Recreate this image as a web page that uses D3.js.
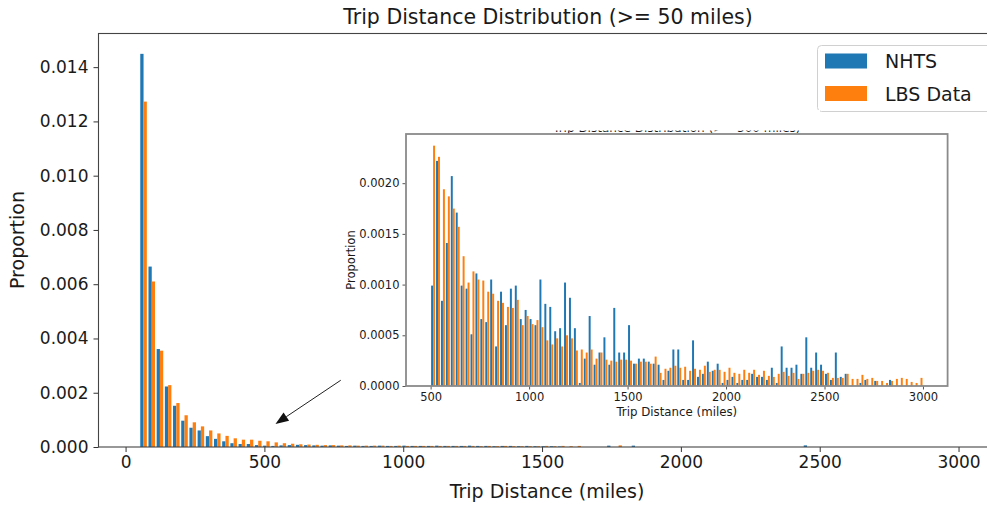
<!DOCTYPE html>
<html>
<head>
<meta charset="utf-8">
<script src="https://cdn.jsdelivr.net/npm/d3@7/dist/d3.min.js"></script>
<style>
  html, body { margin: 0; padding: 0; background: #fff; }
  svg text { font-family: "DejaVu Sans", sans-serif; fill: #1a1a1a; }
</style>
</head>
<body>
<svg id="chart" width="987" height="505"></svg>
<script>
// ---------------- DATA ----------------
const seriesNames = ["NHTS", "LBS Data"];
const seriesColors = ["#1f77b4", "#ff7f0e"];

// Main histogram: 100 bins from 50 to 3000 miles
const mainBinStart = 50, mainBinEnd = 3000, mainBinCount = 100;
const nhtsMain = [
  0.01449, 0.00665, 0.00361, 0.00223, 0.00152, 0.00097, 0.00071, 0.00061, 0.00040, 0.00030,
  0.00021, 0.00014, 0.00011, 0.00011, 0.00007, 0.00005, 0.00004, 0.00006, 0.00007, 0.00008,
  0.00007, 0.00006, 0.00005, 0.00006, 0.00005, 0.00004, 0.00005, 0.00004, 0.00004, 0.00005,
  0.00004, 0.00004, 0.00005, 0.00004, 0.00004, 0.00004, 0.00005, 0.00004, 0.00004, 0.00004,
  0.00005, 0.00004, 0.00004, 0.00003, 0.00004, 0.00004, 0.00003, 0.00004, 0.00003, 0.00003,
  0.00003, 0.00002, 0, 0, 0, 0, 0, 0.00005, 0, 0,
  0.00005, 0, 0, 0, 0, 0, 0, 0, 0, 0,
  0, 0, 0, 0, 0, 0, 0, 0, 0, 0,
  0, 0.00006, 0, 0, 0, 0, 0, 0, 0, 0,
  0, 0, 0, 0, 0, 0, 0, 0, 0, 0
];
const lbsMain = [
  0.01273, 0.00610, 0.00355, 0.00228, 0.00162, 0.00117, 0.00091, 0.00076, 0.00061, 0.00050,
  0.00041, 0.00032, 0.00027, 0.00027, 0.00023, 0.00021, 0.00017, 0.00014, 0.00012, 0.00010,
  0.00009, 0.00008, 0.00007, 0.00007, 0.00006, 0.00006, 0.00005, 0.00005, 0.00005, 0.00005,
  0.00004, 0.00005, 0.00004, 0.00004, 0.00004, 0.00004, 0.00004, 0.00004, 0.00004, 0.00004,
  0.00004, 0.00003, 0.00004, 0.00003, 0.00004, 0.00003, 0.00003, 0.00003, 0.00003, 0.00004,
  0.00003, 0.00004, 0.00003, 0.00004, 0, 0, 0, 0, 0.00006, 0,
  0, 0, 0, 0, 0, 0, 0, 0, 0, 0,
  0, 0, 0, 0, 0, 0, 0, 0, 0, 0,
  0, 0, 0, 0, 0, 0, 0, 0, 0, 0,
  0, 0, 0, 0, 0, 0, 0, 0, 0, 0
];

// Inset histogram: 100 bins from 500 to 3000 miles
const insetBinStart = 500, insetBinEnd = 3000, insetBinCount = 100;
const nhtsInset = [
  0.00099, 0.00222, 0.00084, 0.00141, 0.00207, 0.00171, 0.00099, 0.00096, 0.00051, 0.00111,
  0.00066, 0.00063, 0.00105, 0.00039, 0.00093, 0.00060, 0.00096, 0.00099, 0.00066, 0.00075,
  0.00066, 0.00060, 0.00105, 0.00081, 0.00078, 0.00054, 0.00057, 0.00102, 0.00087, 0.00057,
  0.00003, 0.00027, 0.00069, 0.00021, 0.00033, 0.00048, 0.00021, 0.00077, 0.00033, 0.00033,
  0.00060, 0.00022, 0.00027, 0.00027, 0.00024, 0.00022, 0.00021, 0.00006, 0.00015, 0.00036,
  0.00036, 0.00006, 0.00006, 0.00045, 0.00009, 0.00012, 0.00024, 0.00015, 0.00022, 0.00003,
  0.00006, 0.00009, 0.00003, 0.00006, 0.00006, 0.00012, 0.00009, 0.00009, 0.00006, 0.00018,
  0.00003, 0.00039, 0.00018, 0.00018, 0.00021, 0.00012, 0.00048, 0.00018, 0.00033, 0.00021,
  0.00012, 0.00006, 0.00033, 0.00009, 0.00012, 0, 0, 0.00003, 0.00006, 0,
  0.00005, 0, 0, 0.00006, 0, 0, 0, 0, 0, 0
];
const lbsInset = [
  0.00237, 0.00226, 0.00194, 0.00187, 0.00175, 0.00157, 0.00128, 0.00102, 0.00113, 0.00105,
  0.00104, 0.00093, 0.00091, 0.00084, 0.00082, 0.00078, 0.00077, 0.00085, 0.00060, 0.00069,
  0.00061, 0.00065, 0.00058, 0.00045, 0.00041, 0.00047, 0.00039, 0.00050, 0.00047, 0.00035,
  0.00036, 0.00033, 0.00036, 0.00027, 0.00033, 0.00026, 0.00025, 0.00024, 0.00026, 0.00026,
  0.00025, 0.00022, 0.00024, 0.00024, 0.00022, 0.00029, 0.00013, 0.00017, 0.00018, 0.00020,
  0.00018, 0.00019, 0.00015, 0.00017, 0.00016, 0.00020, 0.00014, 0.00016, 0.00016, 0.00014,
  0.00018, 0.00013, 0.00012, 0.00016, 0.00013, 0.00016, 0.00011, 0.00015, 0.00010, 0.00009,
  0.00012, 0.00014, 0.00010, 0.00013, 0.00007, 0.00012, 0.00013, 0.00015, 0.00016, 0.00015,
  0.00013, 0.00008, 0.00008, 0.00008, 0.00012, 0.00007, 0.00007, 0.00011, 0.00007, 0.00008,
  0.00005, 0.00005, 0.00003, 0.00005, 0.00007, 0.00008, 0.00007, 0.00004, 0.00003, 0.00008
];

const mainXTicks = [0, 500, 1000, 1500, 2000, 2500, 3000];
const mainYTicks = [0, 0.002, 0.004, 0.006, 0.008, 0.010, 0.012, 0.014];
const insetXTicks = [500, 1000, 1500, 2000, 2500, 3000];
const insetYTicks = [0, 0.0005, 0.0010, 0.0015, 0.0020];

const mainTitle = "Trip Distance Distribution (>= 50 miles)";
const insetTitle = "Trip Distance Distribution (>= 500 miles)";
const xLabel = "Trip Distance (miles)";
const yLabel = "Proportion";
// annotation arrow (data coords of main axes): tail -> head
const arrowTail = [775, 0.00246];
const arrowHead = [540, 0.00085];

// ---------------- DRAW ----------------
const svg = d3.select("#chart");
svg.append("rect").attr("width", 987).attr("height", 505).attr("fill", "#fff");

function drawBars(g, x, y, start, end, count, seriesList) {
  const w = (end - start) / count;
  const nx = seriesList.length;
  const barW = 0.8 * w / nx;
  seriesList.forEach((vals, s) => {
    g.append("g").selectAll("rect")
      .data(vals.map((v, i) => ({ v, i })).filter(d => d.v > 0))
      .join("rect")
      .attr("x", d => x(start + d.i * w + w / 2 - 0.4 * w + s * barW))
      .attr("width", d => x(start + d.i * w + w / 2 - 0.4 * w + (s + 1) * barW) - x(start + d.i * w + w / 2 - 0.4 * w + s * barW))
      .attr("y", d => y(d.v))
      .attr("height", d => y(0) - y(d.v))
      .attr("fill", seriesColors[s]);
  });
}

// ----- main axes -----
const M = { left: 98.5, right: 999.5, top: 33.5, bottom: 447 };
const mPad = 0.05 * (mainBinEnd - mainBinStart);
const xMain = d3.scaleLinear().domain([mainBinStart - mPad, mainBinEnd + mPad]).range([M.left, M.right]);
const yMain = d3.scaleLinear().domain([0, 0.01524]).range([M.bottom, M.top]);

const gMain = svg.append("g");
drawBars(gMain, xMain, yMain, mainBinStart, mainBinEnd, mainBinCount, [nhtsMain, lbsMain]);

const xAxisMain = svg.append("g").attr("transform", `translate(0,${M.bottom})`)
  .call(d3.axisBottom(xMain).tickValues(mainXTicks).tickSize(5).tickPadding(4).tickFormat(d3.format("d")));
const yAxisMain = svg.append("g").attr("transform", `translate(${M.left},0)`)
  .call(d3.axisLeft(yMain).tickValues(mainYTicks).tickSize(5).tickPadding(5).tickFormat(d3.format(".3f")));
[xAxisMain, yAxisMain].forEach(a => {
  a.select(".domain").remove();
  a.selectAll(".tick line").attr("stroke", "#333").attr("stroke-width", 1);
  a.selectAll(".tick text").style("font-size", "17px").attr("fill", "#1a1a1a");
});
svg.append("rect").attr("x", M.left).attr("y", M.top)
  .attr("width", M.right - M.left).attr("height", M.bottom - M.top)
  .attr("fill", "none").attr("stroke", "#444").attr("stroke-width", 1.1);

svg.append("text").attr("x", 548).attr("y", 24).attr("text-anchor", "middle")
  .style("font-size", "20.5px").text(mainTitle);
svg.append("text").attr("x", 547).attr("y", 498).attr("text-anchor", "middle")
  .style("font-size", "19px").text(xLabel);
svg.append("text").attr("transform", "translate(24,240) rotate(-90)").attr("text-anchor", "middle")
  .style("font-size", "19px").text(yLabel);

// arrow annotation
const ax1 = xMain(arrowTail[0]), ay1 = yMain(arrowTail[1]);
const ax2 = xMain(arrowHead[0]), ay2 = yMain(arrowHead[1]);
const ang = Math.atan2(ay2 - ay1, ax2 - ax1);
const hl = 13, hw = 5;
const bx = ax2 - hl * Math.cos(ang), by = ay2 - hl * Math.sin(ang);
svg.append("line").attr("x1", ax1).attr("y1", ay1).attr("x2", bx).attr("y2", by)
  .attr("stroke", "#222").attr("stroke-width", 1);
svg.append("path")
  .attr("d", `M${ax2},${ay2} L${bx - hw * Math.sin(ang)},${by + hw * Math.cos(ang)} L${bx + hw * Math.sin(ang)},${by - hw * Math.cos(ang)} Z`)
  .attr("fill", "#111");

// ----- legend -----
const lg = svg.append("g");
lg.append("rect").attr("x", 817.5).attr("y", 45.5).attr("width", 190).attr("height", 66)
  .attr("rx", 4).attr("fill", "#fff").attr("fill-opacity", 0.8).attr("stroke", "#d0d0d0");
seriesNames.forEach((n, i) => {
  lg.append("rect").attr("x", 825).attr("y", 53.5 + i * 32.5).attr("width", 42).attr("height", 15)
    .attr("fill", seriesColors[i]);
  lg.append("text").attr("x", 885).attr("y", 68 + i * 32.5).style("font-size", "19px").text(n);
});

// ----- inset axes -----
const I = { left: 406, right: 947.6, top: 134, bottom: 386 };
const iPad = 0.05 * (insetBinEnd - insetBinStart);
const xIn = d3.scaleLinear().domain([insetBinStart - iPad, insetBinEnd + iPad]).range([I.left, I.right]);
const yIn = d3.scaleLinear().domain([0, 0.002485]).range([I.bottom, I.top]);

// inset title (almost entirely hidden in the original: only its bottom edge shows)
svg.append("text").attr("x", (I.left + I.right) / 2).attr("y", 132).attr("text-anchor", "middle")
  .style("font-size", "12px").attr("fill", "#777").text(insetTitle);
svg.append("rect").attr("x", 530).attr("y", 110).attr("width", 290).attr("height", 20.5).attr("fill", "#fff");

svg.append("rect").attr("x", I.left).attr("y", I.top)
  .attr("width", I.right - I.left).attr("height", I.bottom - I.top).attr("fill", "#fff");
const gIn = svg.append("g");
drawBars(gIn, xIn, yIn, insetBinStart, insetBinEnd, insetBinCount, [nhtsInset, lbsInset]);

const xAxisIn = svg.append("g").attr("transform", `translate(0,${I.bottom})`)
  .call(d3.axisBottom(xIn).tickValues(insetXTicks).tickSize(3.5).tickPadding(3).tickFormat(d3.format("d")));
const yAxisIn = svg.append("g").attr("transform", `translate(${I.left},0)`)
  .call(d3.axisLeft(yIn).tickValues(insetYTicks).tickSize(3.5).tickPadding(3).tickFormat(d3.format(".4f")));
[xAxisIn, yAxisIn].forEach(a => {
  a.select(".domain").remove();
  a.selectAll(".tick line").attr("stroke", "#444").attr("stroke-width", 0.9);
  a.selectAll(".tick text").style("font-size", "11.5px").attr("fill", "#1a1a1a");
});
svg.append("rect").attr("x", I.left).attr("y", I.top)
  .attr("width", I.right - I.left).attr("height", I.bottom - I.top)
  .attr("fill", "none").attr("stroke", "#8a8a8a").attr("stroke-width", 1.8);

svg.append("text").attr("x", (I.left + I.right) / 2).attr("y", 416).attr("text-anchor", "middle")
  .style("font-size", "11.8px").text(xLabel);
svg.append("text").attr("transform", `translate(355,${(I.top + I.bottom) / 2}) rotate(-90)`).attr("text-anchor", "middle")
  .style("font-size", "11.5px").text(yLabel);
</script>
</body>
</html>
